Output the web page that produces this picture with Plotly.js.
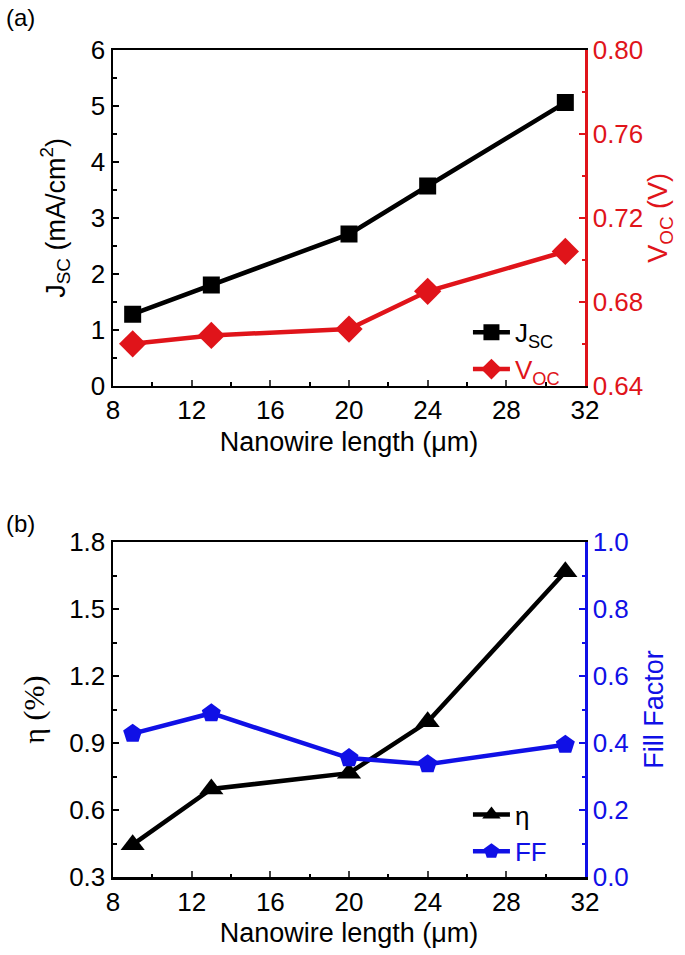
<!DOCTYPE html>
<html>
<head>
<meta charset="utf-8">
<script src="https://cdn.plot.ly/plotly-3.0.1.min.js"></script>
<style>html,body{margin:0;padding:0;background:#fff;}#chart{width:685px;height:955px;}</style>
</head>
<body>
<div id="chart"></div>
<script>
// Data
const lengths = [9, 13, 20, 24, 31];            // Nanowire length (um)
const jsc = [1.28, 1.80, 2.71, 3.57, 5.06];      // mA/cm^2
const voc = [0.660, 0.664, 0.667, 0.685, 0.704]; // V
const eta = [0.445, 0.694, 0.765, 0.995, 1.667]; // %
const ff  = [0.428, 0.489, 0.355, 0.337, 0.395]; // fill factor

const xTitle = 'Nanowire length (\u03bcm)';
const RED = '#e0141a';
const BLUE = '#1010e6';
const FONT = 'Liberation Sans, Arial, sans-serif';
const TICK = 26, TITLE = 27;

const traces = [
  {x: lengths, y: jsc, xaxis: 'x', yaxis: 'y', mode: 'lines+markers', name: 'J<sub>SC</sub>',
   line: {color: '#000', width: 4.5}, marker: {symbol: 'square', size: 17, color: '#000'}, legend: 'legend'},
  {x: lengths, y: voc, xaxis: 'x', yaxis: 'y2', mode: 'lines+markers', name: "<span style='color:" + RED + "'>V<sub>OC</sub></span>",
   line: {color: RED, width: 4.5}, marker: {symbol: 'diamond', size: 21, color: RED}, legend: 'legend'},
  {x: lengths, y: eta, xaxis: 'x2', yaxis: 'y3', mode: 'lines+markers', name: '\u03b7',
   line: {color: '#000', width: 4.5}, marker: {symbol: 'triangle-up', size: 21, color: '#000'}, legend: 'legend2'},
  {x: lengths, y: ff, xaxis: 'x2', yaxis: 'y4', mode: 'lines+markers', name: "<span style='color:" + BLUE + "'>FF</span>",
   line: {color: BLUE, width: 4.5}, marker: {symbol: 'pentagon', size: 20, color: BLUE}, legend: 'legend2'}
];

function xax(anchor) {
  return {anchor: anchor, domain: [0, 1], range: [8, 32], tick0: 8, dtick: 4,
    ticks: 'inside', ticklen: 6, tickwidth: 2, showline: true, linewidth: 2.5, linecolor: '#000', mirror: true,
    showgrid: false, zeroline: false, tickfont: {size: TICK, color: '#000'},
    minor: {dtick: 2, ticks: 'inside', ticklen: 3.5, tickwidth: 2, tickcolor: '#000', showgrid: false},
    title: {text: xTitle, font: {size: TITLE, color: '#000'}, standoff: 8}};
}
function yax(o) {
  const a = {ticks: 'inside', ticklen: 6, tickwidth: 2, showline: true, linewidth: 2.5,
    showgrid: false, zeroline: false, tickfont: {size: TICK}};
  return Object.assign(a, o);
}

const layout = {
  width: 685, height: 955,
  margin: {l: 113, r: 100, t: 50, b: 78},
  paper_bgcolor: '#fff', plot_bgcolor: '#fff',
  font: {family: FONT, color: '#000'},
  showlegend: true,
  xaxis: xax('y'),
  xaxis2: xax('y3'),
  yaxis: yax({domain: [0.594, 1], anchor: 'x', range: [0, 6], tick0: 0, dtick: 1, color: '#000',
    minor: {dtick: 0.5, ticks: 'inside', ticklen: 3.5, tickwidth: 2, showgrid: false},
    title: {text: 'J<sub>SC</sub> (mA/cm<sup>2</sup>)', font: {size: TITLE}, standoff: 18}}),
  yaxis2: yax({overlaying: 'y', side: 'right', anchor: 'x', range: [0.64, 0.80], tick0: 0.64, dtick: 0.04,
    tickformat: '.2f', color: RED, linecolor: RED,
    minor: {dtick: 0.02, ticks: 'inside', ticklen: 3.5, tickwidth: 2, showgrid: false},
    title: {text: 'V<sub>OC</sub> (V)', font: {size: TITLE, color: RED}, standoff: 6}}),
  yaxis3: yax({domain: [0, 0.405], anchor: 'x2', range: [0.3, 1.8], tick0: 0.3, dtick: 0.3, tickformat: '.1f', color: '#000',
    minor: {dtick: 0.15, ticks: 'inside', ticklen: 3.5, tickwidth: 2, showgrid: false},
    title: {text: '\u03b7 (%)', font: {size: 30, family: 'Liberation Serif, Times New Roman, serif'}, standoff: 16}}),
  yaxis4: yax({overlaying: 'y3', side: 'right', anchor: 'x2', range: [0, 1], tick0: 0, dtick: 0.2, tickformat: '.1f',
    color: BLUE, linecolor: BLUE,
    minor: {dtick: 0.1, ticks: 'inside', ticklen: 3.5, tickwidth: 2, showgrid: false},
    title: {text: 'Fill Factor', font: {size: TITLE, color: BLUE}, standoff: 16}}),
  legend: {x: 0.752, y: 0.687, xanchor: 'left', yanchor: 'top', bgcolor: 'rgba(0,0,0,0)',
    font: {size: 26, color: '#000'}, tracegroupgap: 0, itemwidth: 37},
  legend2: {x: 0.752, y: 0.104, xanchor: 'left', yanchor: 'top', bgcolor: 'rgba(0,0,0,0)',
    font: {size: 26, color: '#000'}, tracegroupgap: 0, itemwidth: 37},
  annotations: [
    {text: '(a)', xref: 'paper', yref: 'paper', x: -0.197, y: 1.0387, xanchor: 'center', yanchor: 'middle',
     showarrow: false, font: {size: 24, color: '#000'}},
    {text: '(b)', xref: 'paper', yref: 'paper', x: -0.197, y: 0.428, xanchor: 'center', yanchor: 'middle',
     showarrow: false, font: {size: 24, color: '#000'}}
  ]
};

Plotly.newPlot('chart', traces, layout, {displayModeBar: false, staticPlot: true});
</script>
</body>
</html>
